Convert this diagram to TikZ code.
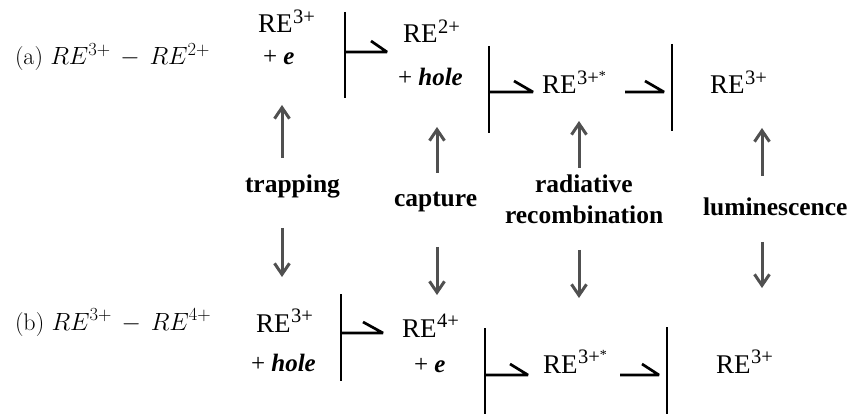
\documentclass[tikz,border=0pt]{standalone}
\usepackage{fontspec}
\newfontfamily\tnr{Liberation Serif}
\usetikzlibrary{arrows.meta}
\newcommand{\ion}[1]{{\tnr\fontsize{27}{30}\selectfont RE\kern0.5pt\raisebox{0.36em}{\fontsize{20.5}{21}\selectfont #1}}}
\newcommand{\ionstar}[1]{{\tnr\fontsize{27}{30}\selectfont RE\kern0.5pt\raisebox{0.36em}{\fontsize{20.5}{21}\selectfont #1}\raisebox{0.5em}{\fontsize{14}{14}\selectfont *}}}
\newcommand{\tsup}[1]{^{\mbox{\fontsize{18.5}{20}\selectfont #1}}}
\begin{document}
\begin{tikzpicture}[x=1pt,y=-1pt,
  txt/.style={anchor=base west, inner sep=0pt, outer sep=0pt},
  plus/.style={anchor=base west, inner sep=0pt, outer sep=0pt, font=\tnr\fontsize{25}{30}\selectfont},
  lbl/.style={anchor=base west, inner sep=0pt, outer sep=0pt, font=\tnr\bfseries\fontsize{25.5}{30}\selectfont},
  barline/.style={line width=2.7pt, black},
  hp/.style={line width=2.7pt, black, line join=bevel},
  garr/.style={line width=3pt, draw={rgb,255:red,80;green,80;blue,80}, -{Straight Barb[length=11pt,width=15pt]}}]
\fill[white] (0,0) rectangle (849,414);
\useasboundingbox (0,0) rectangle (849,414);

% ---------- row (a)
\node[txt] (ta) at (15,65) {\fontsize{24}{28}\selectfont (a) $RE\tsup{3+}\,-\,RE\tsup{2+}$};
\node[txt] (a1) at (258,33) {\ion{3+}};
\node[plus] (a1e) at (263,65) {+ \textbf{\textit{e}}};
\node[txt] (a2) at (403,43) {\ion{2+}};
\node[plus] (a2h) at (398,86) {+ \textbf{\textit{hole}}};
\node[txt] (a3) at (542,94) {\ionstar{3+}};
\node[txt] (a4) at (710,94) {\ion{3+}};

\coordinate (ab1t) at (345,12); \coordinate (ab1b) at (345,98);
\coordinate (ab2t) at (489,46); \coordinate (ab2b) at (489,133);
\coordinate (ab3t) at (672,44); \coordinate (ab3b) at (672,131);
\draw[barline] (ab1t) -- (ab1b);
\draw[barline] (ab2t) -- (ab2b);
\draw[barline] (ab3t) -- (ab3b);
\coordinate (ah1s) at (345,52); \coordinate (ah1e) at (387,52);
\coordinate (ah2s) at (489,92); \coordinate (ah2e) at (533,92);
\coordinate (ah3s) at (625,92); \coordinate (ah3e) at (664,92);
\draw[hp] (ah1s) -- (ah1e) -- ++(-16,-11);
\draw[hp] (ah2s) -- (ah2e) -- ++(-19,-11);
\draw[hp] (ah3s) -- (ah3e) -- ++(-19,-11);

% ---------- row (b)
\node[txt] (tb) at (15,330) {\fontsize{24}{28}\selectfont (b) $RE\tsup{3+}\,-\,RE\tsup{4+}$};
\node[txt] (b1) at (256,332) {\ion{3+}};
\node[plus] (b1h) at (251,371) {+ \textbf{\textit{hole}}};
\node[txt] (b2) at (402,337) {\ion{4+}};
\node[plus] (b2e) at (414,372) {+ \textbf{\textit{e}}};
\node[txt] (b3) at (543,373) {\ionstar{3+}};
\node[txt] (b4) at (716,373) {\ion{3+}};

\coordinate (bb1t) at (341,294); \coordinate (bb1b) at (341,381);
\coordinate (bb2t) at (485,328); \coordinate (bb2b) at (485,414);
\coordinate (bb3t) at (667,327); \coordinate (bb3b) at (667,414);
\draw[barline] (bb1t) -- (bb1b);
\draw[barline] (bb2t) -- (bb2b);
\draw[barline] (bb3t) -- (bb3b);
\coordinate (bh1s) at (341,333); \coordinate (bh1e) at (383,333);
\coordinate (bh2s) at (485,375); \coordinate (bh2e) at (528,375);
\coordinate (bh3s) at (620,375); \coordinate (bh3e) at (659,375);
\draw[hp] (bh1s) -- (bh1e) -- ++(-20,-11);
\draw[hp] (bh2s) -- (bh2e) -- ++(-18,-11);
\draw[hp] (bh3s) -- (bh3e) -- ++(-17,-11);

% ---------- process labels
\node[lbl] (ltrap) at (245,193) {trapping};
\node[lbl] (lcap) at (394,207) {capture};
\node[lbl] (lrad1) at (535,193) {radiative};
\node[lbl] (lrad2) at (505,224) {recombination};
\node[lbl] (llum) at (703,216) {luminescence};

% ---------- grey arrows
\coordinate (tu1) at (282,158); \coordinate (tu2) at (282,105);
\coordinate (td1) at (282,228); \coordinate (td2) at (282,277);
\coordinate (cu1) at (437,173); \coordinate (cu2) at (437,127);
\coordinate (cd1) at (437,247); \coordinate (cd2) at (437,295);
\coordinate (ru1) at (579,168); \coordinate (ru2) at (579,121);
\coordinate (rd1) at (579,250); \coordinate (rd2) at (579,298);
\coordinate (lu1) at (762,176); \coordinate (lu2) at (762,128);
\coordinate (ld1) at (762,242); \coordinate (ld2) at (762,288);
\draw[garr] (tu1) -- (tu2);
\draw[garr] (td1) -- (td2);
\draw[garr] (cu1) -- (cu2);
\draw[garr] (cd1) -- (cd2);
\draw[garr] (ru1) -- (ru2);
\draw[garr] (rd1) -- (rd2);
\draw[garr] (lu1) -- (lu2);
\draw[garr] (ld1) -- (ld2);
\end{tikzpicture}
\end{document}
